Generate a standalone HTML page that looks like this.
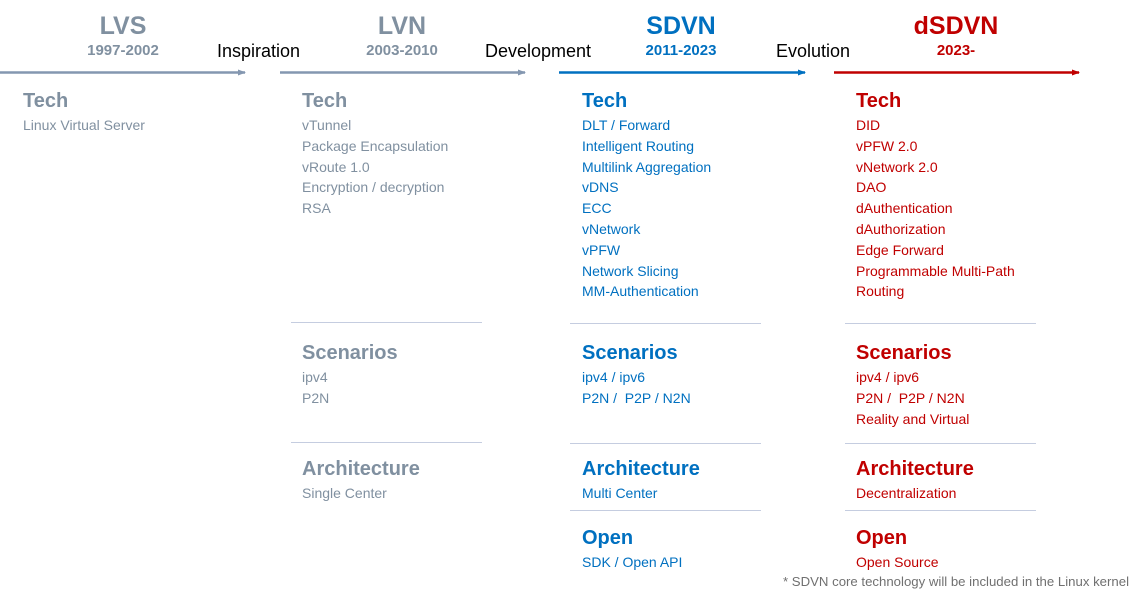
<!DOCTYPE html>
<html><head><style>
body{margin:0;width:1142px;height:598px;background:#fff;position:relative;overflow:hidden;font-family:"Liberation Sans",sans-serif}
.a{position:absolute;white-space:nowrap}
.t{font-weight:bold;font-size:25px;text-align:center;width:200px}
.y{font-weight:bold;font-size:15px;text-align:center;width:200px}
.l{font-size:18px;color:#000}
.h{font-weight:bold;font-size:20px}
.i{font-size:14px;line-height:20.8px}
.g{color:#8090a0}.b{color:#0070c0}.r{color:#c00000}
.sep{position:absolute;height:1px;background:#c5cde0;width:191px}
</style></head><body>
<svg width="1142" height="598" style="position:absolute;left:0;top:0">
<defs>
<marker id="mg" markerWidth="8" markerHeight="6" refX="7" refY="3" orient="auto" markerUnits="userSpaceOnUse"><path d="M0,0L8,3L0,6z" fill="#8497b0"/></marker>
<marker id="mb" markerWidth="8" markerHeight="6" refX="7" refY="3" orient="auto" markerUnits="userSpaceOnUse"><path d="M0,0L8,3L0,6z" fill="#0070c0"/></marker>
<marker id="mr" markerWidth="8" markerHeight="6" refX="7" refY="3" orient="auto" markerUnits="userSpaceOnUse"><path d="M0,0L8,3L0,6z" fill="#c00000"/></marker>
</defs>
<line x1="0" y1="72.5" x2="245" y2="72.5" stroke="#8497b0" stroke-width="2.5" marker-end="url(#mg)"/>
<line x1="280" y1="72.5" x2="525" y2="72.5" stroke="#8497b0" stroke-width="2.5" marker-end="url(#mg)"/>
<line x1="559" y1="72.5" x2="805" y2="72.5" stroke="#0070c0" stroke-width="2.5" marker-end="url(#mb)"/>
<line x1="834" y1="72.5" x2="1079" y2="72.5" stroke="#c00000" stroke-width="2.5" marker-end="url(#mr)"/>
</svg>
<div class="a t g" style="left:23px;top:12px">LVS</div>
<div class="a y g" style="left:23px;top:42px">1997-2002</div>
<div class="a t g" style="left:302px;top:12px">LVN</div>
<div class="a y g" style="left:302px;top:42px">2003-2010</div>
<div class="a t b" style="left:581px;top:12px">SDVN</div>
<div class="a y b" style="left:581px;top:42px">2011-2023</div>
<div class="a t r" style="left:856px;top:12px">dSDVN</div>
<div class="a y r" style="left:856px;top:42px">2023-</div>
<div class="a l" style="left:217px;top:41px">Inspiration</div>
<div class="a l" style="left:485px;top:41px">Development</div>
<div class="a l" style="left:776px;top:41px">Evolution</div>

<div class="a h g" style="left:23px;top:90px">Tech</div>
<div class="a i g" style="left:23px;top:115px">Linux Virtual Server</div>

<div class="a h g" style="left:302px;top:90px">Tech</div>
<div class="a i g" style="left:302px;top:115px">vTunnel<br>Package Encapsulation<br>vRoute 1.0<br>Encryption / decryption<br>RSA</div>
<div class="sep" style="left:291px;top:322px"></div>
<div class="a h g" style="left:302px;top:342px">Scenarios</div>
<div class="a i g" style="left:302px;top:367px">ipv4<br>P2N</div>
<div class="sep" style="left:291px;top:442px"></div>
<div class="a h g" style="left:302px;top:458px">Architecture</div>
<div class="a i g" style="left:302px;top:483px">Single Center</div>

<div class="a h b" style="left:582px;top:90px">Tech</div>
<div class="a i b" style="left:582px;top:115px">DLT / Forward<br>Intelligent Routing<br>Multilink Aggregation<br>vDNS<br>ECC<br>vNetwork<br>vPFW<br>Network Slicing<br>MM-Authentication</div>
<div class="sep" style="left:570px;top:323px"></div>
<div class="a h b" style="left:582px;top:342px">Scenarios</div>
<div class="a i b" style="left:582px;top:367px">ipv4 / ipv6<br>P2N / &nbsp;P2P / N2N</div>
<div class="sep" style="left:570px;top:443px"></div>
<div class="a h b" style="left:582px;top:458px">Architecture</div>
<div class="a i b" style="left:582px;top:483px">Multi Center</div>
<div class="sep" style="left:570px;top:510px"></div>
<div class="a h b" style="left:582px;top:527px">Open</div>
<div class="a i b" style="left:582px;top:552px">SDK / Open API</div>

<div class="a h r" style="left:856px;top:90px">Tech</div>
<div class="a i r" style="left:856px;top:115px">DID<br>vPFW 2.0<br>vNetwork 2.0<br>DAO<br>dAuthentication<br>dAuthorization<br>Edge Forward<br>Programmable Multi-Path<br>Routing</div>
<div class="sep" style="left:845px;top:323px"></div>
<div class="a h r" style="left:856px;top:342px">Scenarios</div>
<div class="a i r" style="left:856px;top:367px">ipv4 / ipv6<br>P2N / &nbsp;P2P / N2N<br>Reality and Virtual</div>
<div class="sep" style="left:845px;top:443px"></div>
<div class="a h r" style="left:856px;top:458px">Architecture</div>
<div class="a i r" style="left:856px;top:483px">Decentralization</div>
<div class="sep" style="left:845px;top:510px"></div>
<div class="a h r" style="left:856px;top:527px">Open</div>
<div class="a i r" style="left:856px;top:552px">Open Source</div>

<div class="a" style="left:783px;top:574px;font-size:13.2px;color:#707070">* SDVN core technology will be included in the Linux kernel</div>
</body></html>
